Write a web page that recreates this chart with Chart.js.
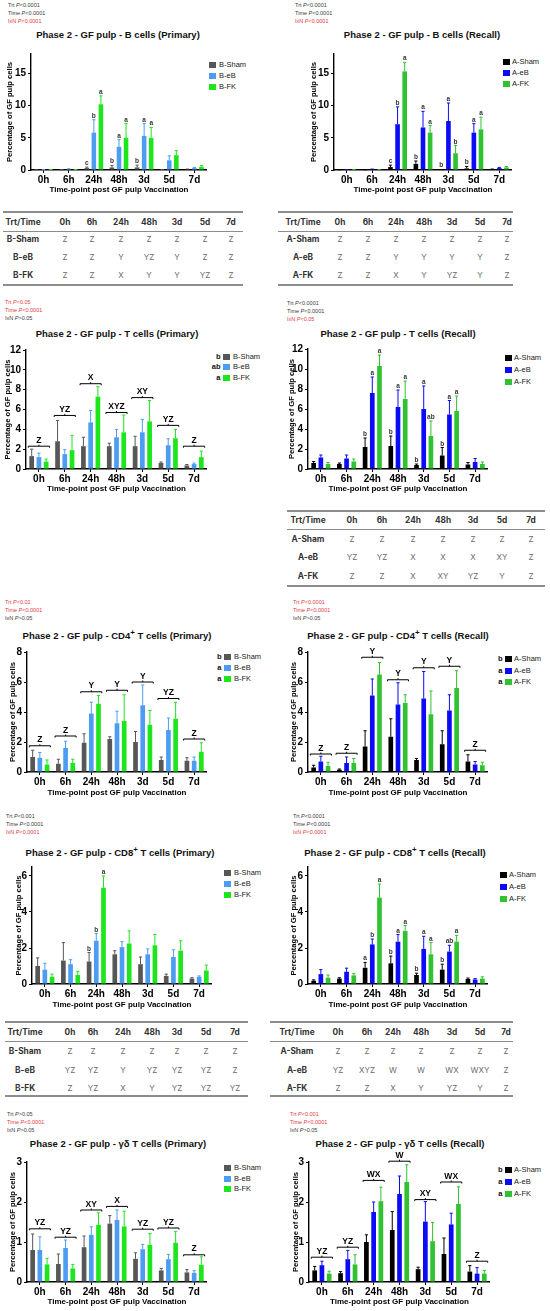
<!DOCTYPE html>
<html>
<head>
<meta charset="utf-8">
<script src="https://cdn.jsdelivr.net/npm/chart.js@4.4.1/dist/chart.umd.min.js"></script>
<style>
html, body { margin: 0; padding: 0; background: #fff; }
body { width: 550px; height: 1311px; position: relative; overflow: hidden; font-family: 'Liberation Sans', Arial, sans-serif; }
.t { position: absolute; white-space: nowrap; line-height: 1; }
canvas { position: absolute; }
</style>
</head>
<body>
<script>
// time points and groups
const timeLabels = ['0h', '6h', '24h', '48h', '3d', '5d', '7d'];
const primaryGroups = ['B-Sham', 'B-eB', 'B-FK'];
const recallGroups = ['A-Sham', 'A-eB', 'A-FK'];

// B cells - primary (Sham, eB, FK)
const bPrimMean = [[0.02, 0.02, 0.3, 0.4, 0.4, 0.05, 0.1], [0.05, 0.15, 5.8, 3.6, 5.3, 1.5, 0.3], [0.05, 0.05, 10.2, 5.0, 5.0, 2.3, 0.5]];
const bPrimSD = [[0.01, 0.01, 0.15, 0.3, 0.35, 0.03, 0.05], [0.03, 0.05, 2.0, 1.1, 1.9, 0.7, 0.1], [0.03, 0.03, 1.3, 2.2, 1.6, 0.7, 0.2]];
const bPrimLetters = [['', '', 'c', 'b', 'b', '', ''], ['', '', 'b', 'a', 'a', '', ''], ['', '', 'a', 'a', 'a', '', '']];

// B cells - recall
const bRecMean = [[0.03, 0.03, 0.45, 0.95, 0.05, 0.25, 0.1], [0.05, 0.1, 7.1, 6.6, 7.6, 5.8, 0.3], [0.03, 0.03, 15.3, 5.8, 2.6, 6.3, 0.4]];
const bRecSD = [[0.01, 0.01, 0.3, 0.45, 0.03, 0.3, 0.05], [0.03, 0.05, 2.7, 2.5, 2.8, 1.4, 0.1], [0.01, 0.01, 1.4, 1.1, 1.2, 1.9, 0.15]];
const bRecLetters = [['', '', 'c', 'b', 'b', 'b', ''], ['', '', 'b', 'a', 'a', 'a', ''], ['', '', 'a', 'a', 'b', 'a', '']];

// T cells - primary
const tPrimMean = [[1.3, 2.8, 2.3, 2.3, 2.3, 0.6, 0.35], [1.2, 1.5, 4.7, 3.2, 3.7, 2.4, 0.5], [0.75, 1.9, 7.3, 3.7, 4.8, 3.1, 1.2]];
const tPrimSD = [[0.7, 2.1, 0.9, 0.3, 1.0, 0.1, 0.1], [0.4, 0.45, 1.2, 0.8, 1.3, 0.65, 0.1], [0.25, 1.5, 1.0, 1.75, 2.1, 0.9, 0.6]];
const tPrimBracket = [2.3, 5.4, 8.6, 5.7, 7.2, 4.4, 2.3];
const tPrimBracketText = ['Z', 'YZ', 'X', 'XYZ', 'XY', 'YZ', 'Z'];

// T cells - recall
const tRecMean = [[0.6, 0.5, 2.2, 2.3, 0.4, 1.35, 0.45], [1.15, 1.05, 7.6, 6.2, 6.0, 5.45, 0.7], [0.5, 0.75, 10.3, 7.0, 3.3, 5.8, 0.5]];
const tRecSD = [[0.15, 0.1, 0.9, 1.0, 0.1, 0.8, 0.2], [0.25, 0.35, 1.6, 1.7, 2.3, 1.4, 0.35], [0.15, 0.25, 1.1, 1.8, 1.5, 1.5, 0.2]];
const tRecLetters = [['', '', 'b', 'b', 'b', 'b', ''], ['', '', 'a', 'a', 'a', 'a', ''], ['', '', 'a', 'a', 'ab', 'a', '']];

// CD4+ T cells - primary
const cd4PrimMean = [[1.0, 0.55, 1.95, 2.2, 2.0, 0.8, 0.75], [0.95, 1.6, 3.9, 3.25, 4.45, 2.8, 0.75], [0.5, 0.6, 4.55, 3.4, 3.15, 3.55, 1.35]];
const cd4PrimSD = [[0.45, 0.3, 0.6, 0.15, 0.7, 0.2, 0.2], [0.35, 0.45, 0.75, 0.8, 1.35, 0.8, 0.25], [0.3, 0.25, 0.55, 1.75, 0.95, 1.1, 0.6]];
const cd4PrimBracket = [1.75, 2.4, 5.35, 5.45, 6.0, 4.9, 2.2];
const cd4PrimBracketText = ['Z', 'Z', 'Y', 'Y', 'Y', 'YZ', 'Z'];

// CD4+ T cells - recall
const cd4RecMean = [[0.3, 0.15, 1.7, 2.35, 0.8, 1.85, 0.7], [0.7, 0.6, 5.1, 4.5, 4.9, 4.1, 0.5], [0.4, 0.6, 6.5, 4.6, 3.85, 5.6, 0.45]];
const cd4RecSD = [[0.15, 0.05, 1.05, 1.2, 0.1, 0.9, 0.45], [0.35, 0.4, 1.1, 1.45, 1.8, 1.05, 0.2], [0.25, 0.3, 0.8, 0.55, 1.55, 1.15, 0.2]];
const cd4RecBracket = [1.2, 1.25, 7.65, 6.15, 6.95, 7.05, 1.45];
const cd4RecBracketText = ['Z', 'Z', 'Y', 'Y', 'Y', 'Y', 'Z'];

// CD8+ T cells - primary
const cd8PrimMean = [[1.0, 1.3, 1.25, 1.65, 1.1, 0.45, 0.3], [0.8, 1.1, 2.4, 2.05, 1.65, 1.5, 0.4], [0.4, 0.5, 5.35, 2.25, 2.15, 1.85, 0.75]];
const cd8PrimSD = [[0.45, 1.0, 0.5, 0.2, 0.4, 0.1, 0.05], [0.35, 0.25, 0.4, 0.3, 0.3, 0.4, 0.05], [0.15, 0.2, 0.65, 0.7, 0.6, 0.55, 0.3]];
const cd8PrimLetters = [['', '', 'b', '', '', '', ''], ['', '', 'b', '', '', '', ''], ['', '', 'a', '', '', '', '']];

// CD8+ T cells - recall
const cd8RecMean = [[0.18, 0.3, 0.9, 1.15, 0.5, 0.8, 0.28], [0.55, 0.68, 2.2, 2.35, 1.95, 1.8, 0.25], [0.35, 0.48, 4.8, 2.95, 1.65, 2.35, 0.3]];
const cd8RecSD = [[0.05, 0.05, 0.3, 0.4, 0.1, 0.3, 0.05], [0.25, 0.2, 0.3, 0.4, 0.7, 0.35, 0.05], [0.15, 0.1, 0.75, 0.3, 0.65, 0.35, 0.1]];
const cd8RecLetters = [['', '', 'a', 'b', 'b', 'b', ''], ['', '', 'b', 'a', 'a', 'ab', ''], ['', '', 'a', 'a', 'a', 'a', '']];

// γδ T cells - primary
const gdPrimMean = [[0.8, 0.45, 0.87, 1.46, 0.58, 0.29, 0.24], [0.8, 0.85, 1.18, 1.55, 0.82, 0.57, 0.23], [0.44, 0.34, 1.43, 1.39, 0.93, 0.98, 0.43]];
const gdPrimSD = [[0.4, 0.25, 0.28, 0.2, 0.15, 0.05, 0.07], [0.33, 0.2, 0.2, 0.25, 0.12, 0.12, 0.05], [0.15, 0.1, 0.3, 0.38, 0.28, 0.28, 0.2]];
const gdPrimBracket = [1.33, 1.12, 1.8, 1.89, 1.32, 1.35, 0.68];
const gdPrimBracketText = ['YZ', 'YZ', 'XY', 'X', 'YZ', 'YZ', 'Z'];

// γδ T cells - recall
const gdRecMean = [[0.29, 0.22, 1.0, 1.3, 0.32, 0.7, 0.26], [0.42, 0.57, 1.75, 2.2, 1.51, 1.44, 0.21], [0.21, 0.44, 2.02, 2.5, 1.02, 1.95, 0.21]];
const gdRecSD = [[0.1, 0.04, 0.18, 0.46, 0.05, 0.4, 0.15], [0.1, 0.22, 0.25, 0.45, 0.5, 0.28, 0.15], [0.06, 0.24, 0.35, 0.43, 0.47, 0.43, 0.08]];
const gdRecBracket = [0.62, 0.87, 2.54, 3.02, 2.06, 2.5, 0.52];
const gdRecBracketText = ['YZ', 'YZ', 'WX', 'W', 'XY', 'WX', 'Z'];

// letter tables
const tableHeader = ['Trt/Time', '0h', '6h', '24h', '48h', '3d', '5d', '7d'];
const bTable1 = [['B-Sham', 'Z', 'Z', 'Z', 'Z', 'Z', 'Z', 'Z'], ['B-eB', 'Z', 'Z', 'Y', 'YZ', 'Y', 'Z', 'Z'], ['B-FK', 'Z', 'Z', 'X', 'Y', 'Y', 'YZ', 'Z']];
const aTable1 = [['A-Sham', 'Z', 'Z', 'Z', 'Z', 'Z', 'Z', 'Z'], ['A-eB', 'Z', 'Z', 'Y', 'Y', 'Y', 'Y', 'Z'], ['A-FK', 'Z', 'Z', 'X', 'Y', 'YZ', 'Y', 'Z']];
const aTable2 = [['A-Sham', 'Z', 'Z', 'Z', 'Z', 'Z', 'Z', 'Z'], ['A-eB', 'YZ', 'YZ', 'X', 'X', 'X', 'XY', 'Z'], ['A-FK', 'Z', 'Z', 'X', 'XY', 'YZ', 'Y', 'Z']];
const bTable3 = [['B-Sham', 'Z', 'Z', 'Z', 'Z', 'Z', 'Z', 'Z'], ['B-eB', 'YZ', 'YZ', 'Y', 'YZ', 'YZ', 'YZ', 'Z'], ['B-FK', 'Z', 'YZ', 'X', 'Y', 'YZ', 'YZ', 'YZ']];
const aTable3 = [['A-Sham', 'Z', 'Z', 'Z', 'Z', 'Z', 'Z', 'Z'], ['A-eB', 'YZ', 'XYZ', 'W', 'W', 'WX', 'WXY', 'Z'], ['A-FK', 'Z', 'Z', 'X', 'Y', 'YZ', 'Y', 'Z']];

const FONT = "'Liberation Sans', Arial, sans-serif";
const TFONT = "Inter, 'Liberation Sans', sans-serif";
const RED = '#e0393e', DARK = '#3a3a3a';
const primaryColors = ['#575757', '#4c9df2', '#1de61d'];
const recallColors = ['#000000', '#0b0bf5', '#30c230'];

Chart.defaults.font.family = FONT;
Chart.defaults.color = '#000';

// place a piece of html text; ax: 0 left, 0.5 centre, 1 right
function put(html, x, y, css, ax) {
    const d = document.createElement('div');
    d.className = 't';
    d.innerHTML = html;
    d.style.left = x + 'px';
    d.style.top = y + 'px';
    d.style.transform = 'translate(' + (-(ax || 0) * 100) + '%, -50%)';
    Object.assign(d.style, css || {});
    document.body.appendChild(d);
    return d;
}

// error bars, letters above bars, brackets over groups
const errorBars = {
    id: 'errorBars',
    afterDatasetsDraw(chart, args, opts) {
        const ctx = chart.ctx, ys = chart.scales.y;
        ctx.save();
        chart.data.datasets.forEach((ds, i) => {
            chart.getDatasetMeta(i).data.forEach((bar, j) => {
                const top = ys.getPixelForValue(ds.data[j] + ds.sd[j]);
                ctx.strokeStyle = ds.backgroundColor;
                ctx.lineWidth = 1;
                ctx.beginPath();
                ctx.moveTo(bar.x, bar.y);
                ctx.lineTo(bar.x, top);
                ctx.moveTo(bar.x - 1.6, top);
                ctx.lineTo(bar.x + 1.6, top);
                ctx.stroke();
                const L = ds.letters ? ds.letters[j] : '';
                if (L) {
                    ctx.fillStyle = '#333';
                    ctx.font = 'bold 6.5px ' + FONT;
                    ctx.textAlign = 'center';
                    ctx.textBaseline = 'alphabetic';
                    ctx.fillText(L, bar.x, top - 2);
                }
            });
        });
        if (opts.levels) {
            const first = chart.getDatasetMeta(0).data;
            const last = chart.getDatasetMeta(chart.data.datasets.length - 1).data;
            opts.levels.forEach((lv, j) => {
                const x0 = first[j].x - first[j].width / 2 - 1;
                const x1 = last[j].x + last[j].width / 2 + 1;
                const xm = (x0 + x1) / 2, y = ys.getPixelForValue(lv);
                ctx.strokeStyle = '#000';
                ctx.lineWidth = 1;
                ctx.beginPath();
                ctx.moveTo(x0, y + 1.5); ctx.lineTo(x0, y); ctx.lineTo(x1, y); ctx.lineTo(x1, y + 1.5);
                ctx.moveTo(xm, y); ctx.lineTo(xm, y - 1.5);
                ctx.stroke();
                ctx.fillStyle = '#000';
                ctx.font = 'bold 8.5px ' + FONT;
                ctx.textAlign = 'center';
                ctx.textBaseline = 'alphabetic';
                ctx.fillText(opts.labels[j], xm, y - 3.5);
            });
        }
        ctx.restore();
    }
};

const panels = [
    { title: 'Phase 2 - GF pulp - B cells (Primary)', mean: bPrimMean, sd: bPrimSD, letters: bPrimLetters, recall: false,
      stats: [['Trt', '&lt;0.0001', 0], ['Time', '&lt;0.0001', 0], ['IxN', '&lt;0.0001', 1]],
      sx: 8, sy: 6, tx: 118, ty: 35, L: 31, R: 207, T: 54, Z: 170, yMax: 18, step: 5, ytx: 10, xty: 190,
      lg: { sw: 209, tx: 219, rows: [65, 76, 87] } },
    { title: 'Phase 2 - GF pulp - B cells (Recall)', mean: bRecMean, sd: bRecSD, letters: bRecLetters, recall: true,
      stats: [['Trt', '&lt;0.0001', 0], ['Time', '&lt;0.0001', 0], ['IxN', '&lt;0.0001', 1]],
      sx: 295, sy: 6, tx: 422, ty: 35, L: 334, R: 512, T: 54, Z: 170, yMax: 18, step: 5, ytx: 314, xty: 190,
      lg: { sw: 503, tx: 512, rows: [62, 73, 84] } },
    { title: 'Phase 2 - GF pulp - T cells (Primary)', mean: tPrimMean, sd: tPrimSD, recall: false,
      levels: tPrimBracket, labels: tPrimBracketText,
      stats: [['Trt', '&lt;0.05', 1], ['Time', '&lt;0.0001', 1], ['IxN', '&gt;0.05', 0]],
      sx: 5, sy: 303, tx: 117, ty: 334, L: 26, R: 207, T: 350, Z: 469, yMax: 12, step: 2, ytx: 8, xty: 489,
      lg: { sw: 223, tx: 233, rows: [357, 367, 378], pre: ['b', 'ab', 'a'] } },
    { title: 'Phase 2 - GF pulp - T cells (Recall)', mean: tRecMean, sd: tRecSD, letters: tRecLetters, recall: true,
      stats: [['Trt', '&lt;0.0001', 0], ['Time', '&lt;0.0001', 0], ['IxN', '&lt;0.05', 1]],
      sx: 287, sy: 304, tx: 398, ty: 334, L: 308, R: 488, T: 349, Z: 469, yMax: 12, step: 2, ytx: 292, xty: 489,
      lg: { sw: 505, tx: 514, rows: [358, 370, 382] } },
    { title: 'Phase 2 - GF pulp - CD4<sup>+</sup> T cells (Primary)', mean: cd4PrimMean, sd: cd4PrimSD, recall: false,
      levels: cd4PrimBracket, labels: cd4PrimBracketText,
      stats: [['Trt', '&lt;0.01', 1], ['Time', '&lt;0.0001', 1], ['IxN', '&gt;0.05', 0]],
      sx: 5, sy: 603, tx: 117, ty: 635, L: 27, R: 207, T: 652, Z: 772, yMax: 8, step: 2, ytx: 13, xty: 793,
      lg: { sw: 224, tx: 234, rows: [657, 668, 679], pre: ['b', 'a', 'a'] } },
    { title: 'Phase 2 - GF pulp - CD4<sup>+</sup> T cells (Recall)', mean: cd4RecMean, sd: cd4RecSD, recall: true,
      levels: cd4RecBracket, labels: cd4RecBracketText,
      stats: [['Trt', '&lt;0.0001', 1], ['Time', '&lt;0.0001', 1], ['IxN', '&gt;0.05', 0]],
      sx: 293, sy: 603, tx: 398, ty: 635, L: 308, R: 488, T: 652, Z: 772, yMax: 8, step: 2, ytx: 294, xty: 793,
      lg: { sw: 505, tx: 514, rows: [659, 671, 682], pre: ['b', 'a', 'a'] } },
    { title: 'Phase 2 - GF pulp - CD8<sup>+</sup> T cells (Primary)', mean: cd8PrimMean, sd: cd8PrimSD, letters: cd8PrimLetters, recall: false,
      stats: [['Trt', '&lt;0.001', 0], ['Time', '&lt;0.0001', 0], ['IxN', '&lt;0.0001', 1]],
      sx: 6, sy: 817, tx: 120, ty: 852, L: 32, R: 212, T: 867, Z: 984, yMax: 6.5, step: 2, ytx: 19, xty: 1005,
      lg: { sw: 224, tx: 234, rows: [873, 884, 895] } },
    { title: 'Phase 2 - GF pulp - CD8<sup>+</sup> T cells (Recall)', mean: cd8RecMean, sd: cd8RecSD, letters: cd8RecLetters, recall: true,
      stats: [['Trt', '&lt;0.0001', 0], ['Time', '&lt;0.0001', 0], ['IxN', '&lt;0.0001', 1]],
      sx: 293, sy: 817, tx: 395, ty: 852, L: 308, R: 488, T: 867, Z: 984, yMax: 6.5, step: 2, ytx: 294, xty: 1005,
      lg: { sw: 500, tx: 509, rows: [875, 887, 899] } },
    { title: 'Phase 2 - GF pulp - γδ T cells (Primary)', mean: gdPrimMean, sd: gdPrimSD, recall: false,
      levels: gdPrimBracket, labels: gdPrimBracketText,
      stats: [['Trt', '&gt;0.05', 0], ['Time', '&lt;0.0001', 1], ['IxN', '&gt;0.05', 0]],
      sx: 7, sy: 1115, tx: 118, ty: 1144, L: 27, R: 207, T: 1162, Z: 1282, yMax: 3, step: 1, ytx: 13, xty: 1302,
      lg: { sw: 224, tx: 234, rows: [1168, 1179, 1189] } },
    { title: 'Phase 2 - GF pulp - γδ T cells (Recall)', mean: gdRecMean, sd: gdRecSD, recall: true,
      levels: gdRecBracket, labels: gdRecBracketText,
      stats: [['Trt', '&lt;0.001', 1], ['Time', '&lt;0.0001', 1], ['IxN', '&gt;0.05', 0]],
      sx: 290, sy: 1115, tx: 400, ty: 1144, L: 309, R: 490, T: 1162, Z: 1282, yMax: 3, step: 1, ytx: 296, xty: 1302,
      lg: { sw: 505, tx: 514, rows: [1170, 1182, 1194], pre: ['b', 'a', 'a'] } }
];

function drawPanel(p) {
    const colors = p.recall ? recallColors : primaryColors;
    const groups = p.recall ? recallGroups : primaryGroups;

    // stats lines
    p.stats.forEach((s, i) => {
        put(s[0] + ' <i>P</i>' + s[1], p.sx, p.sy + i * 8,
            { fontSize: '5.5px', color: s[2] ? RED : DARK });
    });
    // title
    put(p.title, p.tx, p.ty, { fontSize: '9.5px', fontWeight: 'bold', color: '#111' }, 0.5);
    // legend
    groups.forEach((g, i) => {
        const y = p.lg.rows[i];
        const sw = document.createElement('div');
        Object.assign(sw.style, { position: 'absolute', left: p.lg.sw + 'px', top: (y - 3) + 'px',
            width: '7px', height: '6px', background: colors[i] });
        document.body.appendChild(sw);
        put(g, p.lg.tx, y, { fontSize: '7.5px', color: '#222' });
        if (p.lg.pre) put(p.lg.pre[i], p.lg.sw - 2.5, y, { fontSize: '7.5px', fontWeight: 'bold', color: '#111' }, 1);
    });

    const left = Math.round(p.ytx - 4.6);
    const top = p.T - 16;
    const yW = p.L - left;
    const xH = p.xty + 5 - p.Z;
    const cv = document.createElement('canvas');
    cv.width = p.R - left;
    cv.height = p.Z + xH - top;
    cv.style.left = left + 'px';
    cv.style.top = top + 'px';
    document.body.appendChild(cv);

    new Chart(cv.getContext('2d'), {
        type: 'bar',
        data: {
            labels: timeLabels,
            datasets: groups.map((g, i) => ({
                label: g,
                data: p.mean[i],
                sd: p.sd[i],
                letters: p.letters ? p.letters[i] : null,
                backgroundColor: colors[i],
                borderWidth: 0,
                categoryPercentage: 0.84,
                barPercentage: 0.65
            }))
        },
        options: {
            responsive: false,
            animation: false,
            events: [],
            layout: { padding: { top: 16, right: 0, left: 0, bottom: 0 } },
            plugins: {
                legend: { display: false },
                tooltip: { enabled: false },
                errorBars: { levels: p.levels || null, labels: p.labels || null }
            },
            scales: {
                x: {
                    type: 'category', offset: true,
                    grid: { display: true, drawOnChartArea: false, drawTicks: true, tickLength: 3, offset: false, color: '#000', lineWidth: 1 },
                    border: { display: true, color: '#000', width: 1.4 },
                    ticks: { color: '#000', padding: 1, maxRotation: 0, autoSkip: false, font: { size: 10, weight: 'bold' } },
                    title: { display: true, text: 'Time-point post GF pulp Vaccination', color: '#000', padding: 0, font: { size: 8, weight: 'bold' } },
                    afterFit: s => { s.height = xH; }
                },
                y: {
                    min: 0, max: p.yMax,
                    grid: { drawOnChartArea: false, drawTicks: true, tickLength: 3, color: '#000', lineWidth: 1 },
                    border: { display: true, color: '#000', width: 1.4 },
                    ticks: { stepSize: p.step, includeBounds: false, color: '#000', padding: 2, font: { size: 10, weight: 'bold' } },
                    title: { display: true, text: 'Percentage of GF pulp cells', color: '#000', padding: 0, font: { size: 7.6, weight: 'bold' } },
                    afterFit: s => { s.width = yW; }
                }
            }
        },
        plugins: [errorBars]
    });
}

panels.forEach(drawPanel);

// letter tables under the plots
function drawTable(tb, rowsData) {
    const rule = (y, h) => {
        const d = document.createElement('div');
        Object.assign(d.style, { position: 'absolute', left: tb.x0 + 'px', width: (tb.x1 - tb.x0) + 'px',
            top: (y - h / 2) + 'px', height: h + 'px', background: '#8c8c8c' });
        document.body.appendChild(d);
    };
    rule(tb.top, 2);
    rule(tb.mid, 1);
    rule(tb.bottom, 2);
    tableHeader.forEach((h, c) => {
        put(h, tb.cols[c], tb.head, { fontFamily: TFONT, fontSize: '8.3px', fontWeight: 'bold', color: '#333' }, 0.5);
    });
    rowsData.forEach((row, r) => {
        row.forEach((v, c) => {
            put(v, tb.cols[c], tb.rows[r], c === 0
                ? { fontFamily: TFONT, fontSize: '8.3px', fontWeight: 'bold', color: '#333' }
                : { fontFamily: TFONT, fontSize: '8px', color: '#6a6a6a' }, 0.5);
        });
    });
}

drawTable({ x0: 3, x1: 243, cols: [23, 65, 92, 121, 149, 177, 205, 231], top: 212, head: 222, mid: 231, rows: [239, 257, 275], bottom: 285 }, bTable1);
drawTable({ x0: 278, x1: 513, cols: [303, 340, 368, 396, 424, 452, 480, 507], top: 212, head: 222, mid: 231, rows: [239, 257, 275], bottom: 285 }, aTable1);
drawTable({ x0: 287, x1: 545, cols: [308, 352, 382, 413, 443, 473, 502, 531], top: 511, head: 520, mid: 529, rows: [539, 557, 576], bottom: 586 }, aTable2);
drawTable({ x0: 5, x1: 248, cols: [25, 70, 93, 123, 152, 177, 206, 235], top: 1022, head: 1032, mid: 1041, rows: [1051, 1070, 1088], bottom: 1096 }, bTable3);
drawTable({ x0: 270, x1: 513, cols: [297, 338, 367, 393, 421, 452, 480, 506], top: 1022, head: 1032, mid: 1041, rows: [1051, 1070, 1088], bottom: 1096 }, aTable3);
</script>
</body>
</html>
